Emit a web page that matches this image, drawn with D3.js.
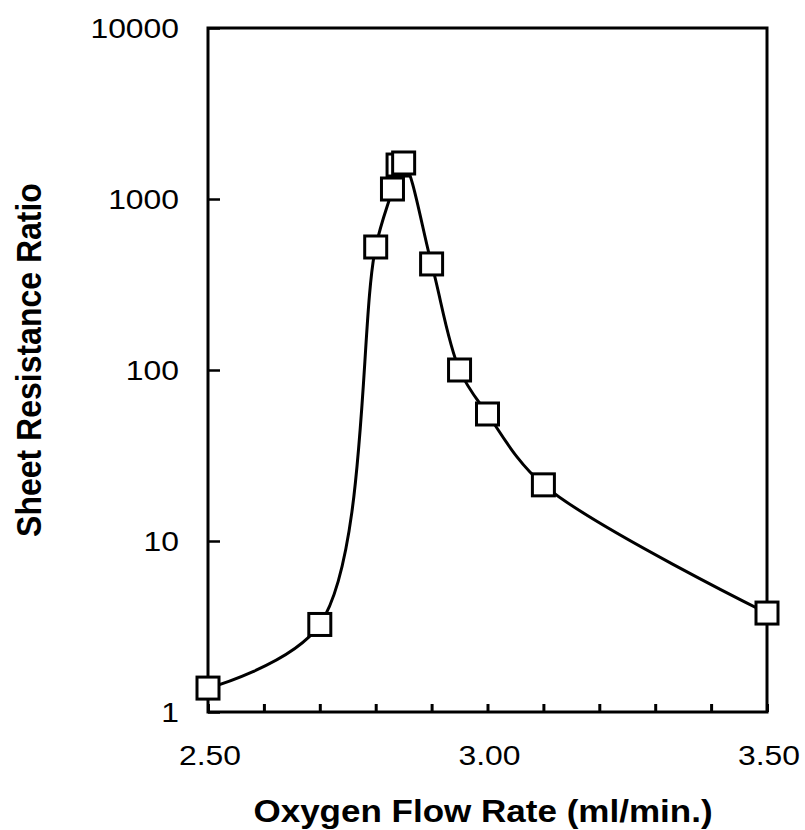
<!DOCTYPE html>
<html>
<head>
<meta charset="utf-8">
<script src="https://cdn.jsdelivr.net/npm/d3@7"></script>
<style>
  html, body { margin: 0; padding: 0; background: #fff; }
  svg { display: block; }
  text { font-family: "Liberation Sans", Arial, Helvetica, sans-serif; fill: #000; }
</style>
</head>
<body>
<svg id="chart" width="805" height="830"></svg>
<script>
// Oxygen flow rate (ml/min.) and the measured sheet resistance ratio
const flowRate = [2.50, 2.70, 2.80, 2.83, 2.84, 2.85, 2.90, 2.95, 3.00, 3.10, 3.50];
const resistanceRatio = [1.38, 3.25, 524, 1144, 1580, 1624, 417, 100, 55.3, 21.3, 3.79];

const xTickLabels = ["2.50", "3.00", "3.50"];
const yTickValues = [1, 10, 100, 1000, 10000];
const yTickLabels = ["1", "10", "100", "1000", "10000"];

const xTitle = "Oxygen Flow Rate (ml/min.)";
const yTitle = "Sheet Resistance Ratio";

(function draw() {
  const svg = d3.select("#chart");
  const plotLeft = 208, plotRight = 767, plotTop = 28, plotBottom = 712;
  const stretch = 1.18; // text glyphs are drawn slightly wide

  const x = d3.scaleLinear().domain([2.5, 3.5]).range([plotLeft, plotRight]);
  const y = d3.scaleLog().domain([1, 10000]).range([plotBottom, plotTop]);

  // plot frame
  svg.append("rect")
    .attr("x", plotLeft).attr("y", plotTop)
    .attr("width", plotRight - plotLeft).attr("height", plotBottom - plotTop)
    .attr("fill", "none").attr("stroke", "#000").attr("stroke-width", 3);

  // bottom axis: inward ticks every 0.1
  const xAxis = d3.axisBottom(x)
    .ticks(10)
    .tickSizeInner(-8).tickSizeOuter(0)
    .tickFormat("");
  svg.append("g")
    .attr("transform", `translate(0,${plotBottom})`)
    .call(xAxis)
    .call(g => g.select(".domain").remove())
    .call(g => g.selectAll(".tick line").attr("stroke", "#000").attr("stroke-width", 3));

  // left axis: inward ticks at each decade
  const yAxis = d3.axisLeft(y)
    .tickValues(yTickValues)
    .tickSizeInner(-12).tickSizeOuter(0)
    .tickFormat("");
  svg.append("g")
    .attr("transform", `translate(${plotLeft},0)`)
    .call(yAxis)
    .call(g => g.select(".domain").remove())
    .call(g => g.selectAll(".tick line").attr("stroke", "#000").attr("stroke-width", 2.5));

  // tick labels
  svg.append("g").selectAll("text")
    .data(xTickLabels)
    .join("text")
    .attr("transform", d => `translate(${x(+d) + 2},765) scale(${stretch},1)`)
    .attr("text-anchor", "middle")
    .attr("font-size", 27)
    .text(d => d);

  svg.append("g").selectAll("text")
    .data(yTickValues)
    .join("text")
    .attr("transform", d => `translate(179,${y(d) + 9.5}) scale(${stretch},1)`)
    .attr("text-anchor", "end")
    .attr("font-size", 27)
    .text((d, i) => yTickLabels[i]);

  // axis titles
  svg.append("text")
    .attr("transform", `translate(483,822) scale(1.13,1)`)
    .attr("text-anchor", "middle")
    .attr("font-size", 31)
    .attr("font-weight", "bold")
    .text(xTitle);

  svg.append("text")
    .attr("transform", `translate(41,360) scale(1.1,1) rotate(-90)`)
    .attr("text-anchor", "middle")
    .attr("font-size", 32)
    .attr("font-weight", "bold")
    .text(yTitle);

  // smooth curve through the measurements
  const points = flowRate.map((f, i) => [f, resistanceRatio[i]]);
  const line = d3.line()
    .x(d => x(d[0]))
    .y(d => y(d[1]))
    .curve(d3.curveCatmullRom.alpha(0.5));

  svg.append("path")
    .datum(points)
    .attr("d", line)
    .attr("fill", "none")
    .attr("stroke", "#000")
    .attr("stroke-width", 3);

  // open square markers
  const m = 22;
  svg.append("g").selectAll("rect")
    .data(points)
    .join("rect")
    .attr("x", d => x(d[0]) - m / 2)
    .attr("y", d => y(d[1]) - m / 2)
    .attr("width", m).attr("height", m)
    .attr("fill", "#fff")
    .attr("stroke", "#000")
    .attr("stroke-width", 3);
})();
</script>
</body>
</html>
